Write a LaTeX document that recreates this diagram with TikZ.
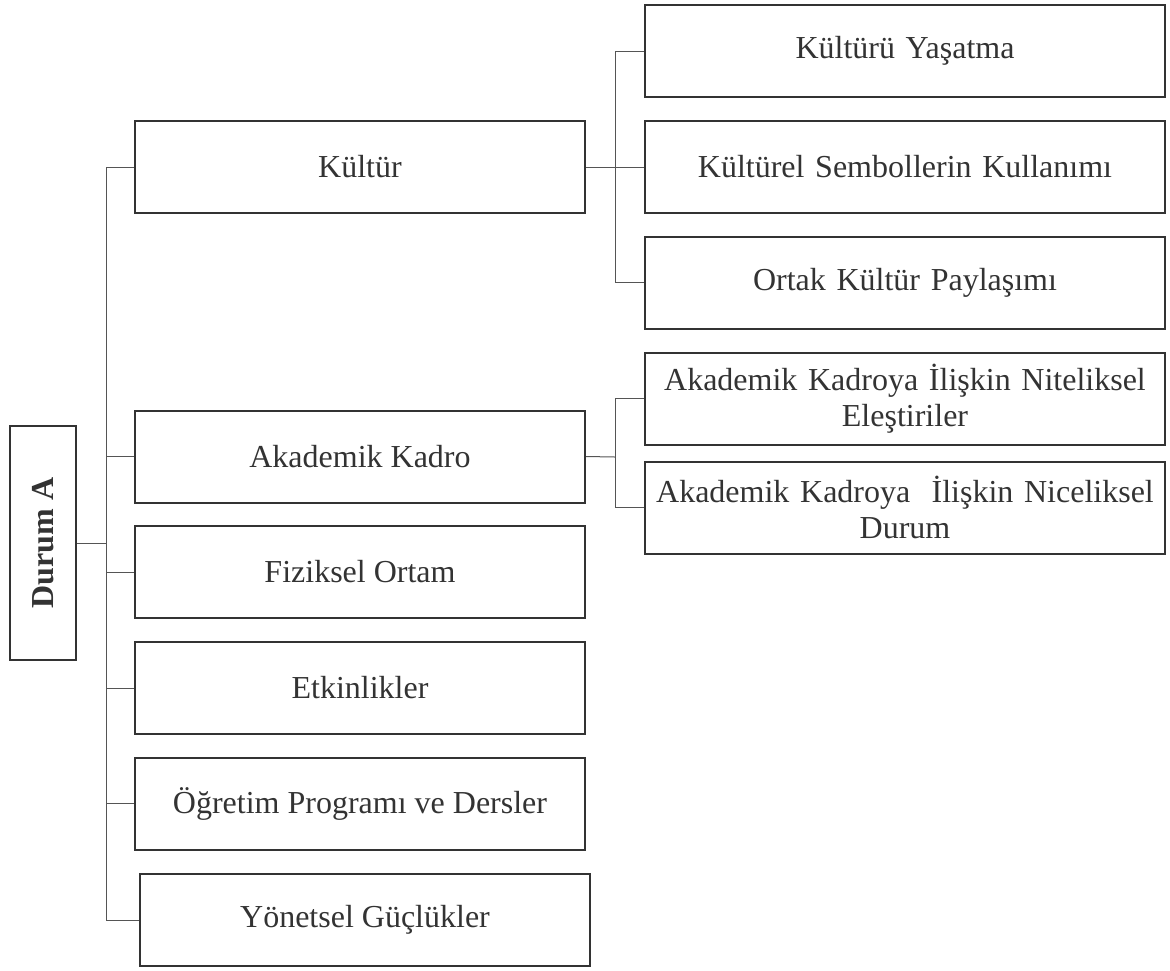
\documentclass[tikz,border=0pt]{standalone}
\usepackage{fontspec}
\setmainfont{Liberation Serif}
\usetikzlibrary{positioning}
\definecolor{boxgray}{HTML}{333333}
\definecolor{linkgray}{HTML}{555555}
\tikzset{
  konu/.style={draw=boxgray,line width=2pt,minimum width=450pt,
    minimum height=92pt,inner sep=0pt,text=boxgray,align=center,
    font=\fontsize{32}{36}\selectfont},
  altkonu/.style={konu,minimum width=520pt,text width=510pt},
  link/.style={draw=linkgray,line width=1pt}
}

\begin{document}
\begin{tikzpicture}[x=1pt,y=-1pt]

	% frame of the page
	\useasboundingbox (0,0) rectangle (1170,970);

	% branch points
	\coordinate (govde) at (106,543);
	\coordinate (kdal) at (615,167);
	\coordinate (adal) at (615,457);

	% main case
	\node[konu,minimum width=66pt,minimum height=234pt] (durum) at (43,543)
	    {\rotatebox{90}{\bfseries Durum A}};

	% themes
	\node[konu] (kultur) at (360,167) {Kültür};
	\node[konu] (akademik) at (360,456.5) {Akademik Kadro};
	\node[konu] (fiziksel) at (360,572) {Fiziksel Ortam};
	\node[konu] (etkinlik) at (360,688) {Etkinlikler};
	\node[konu] (ogretim) at (360,803.5) {Öğretim Programı ve Dersler};
	\node[konu] (yonetsel) at (365,920) {Yönetsel Güçlükler};

	% sub themes
	\node[altkonu] (yasatma) at (905,51) {Kültürü Yaşatma};
	\node[altkonu] (sembol) at (905,167) {Kültürel Sembollerin Kullanımı};
	\node[altkonu] (ortak) at (905,282.5) {Ortak Kültür Paylaşımı};
	\node[altkonu] (nitel) at (905,398.5)
	    {Akademik Kadroya İlişkin Niteliksel\\Eleştiriler};
	\node[altkonu] (nicel) at (905,507.5)
	    {Akademik Kadroya~ İlişkin Niceliksel\\Durum};

	% tree lines
	\draw[link] (durum.east) -- (govde);
	\foreach \n in {kultur,akademik,fiziksel,etkinlik,ogretim,yonetsel}
	    \draw[link] (\n.west) -| (govde);
	\draw[link] (kultur.east) -- (kdal);
	\foreach \n in {yasatma,sembol,ortak}
	    \draw[link] (\n.west) -| (kdal);
	\draw[link] (akademik.east) -- (adal);
	\foreach \n in {nitel,nicel}
	    \draw[link] (\n.west) -| (adal);

\end{tikzpicture}
\end{document}
